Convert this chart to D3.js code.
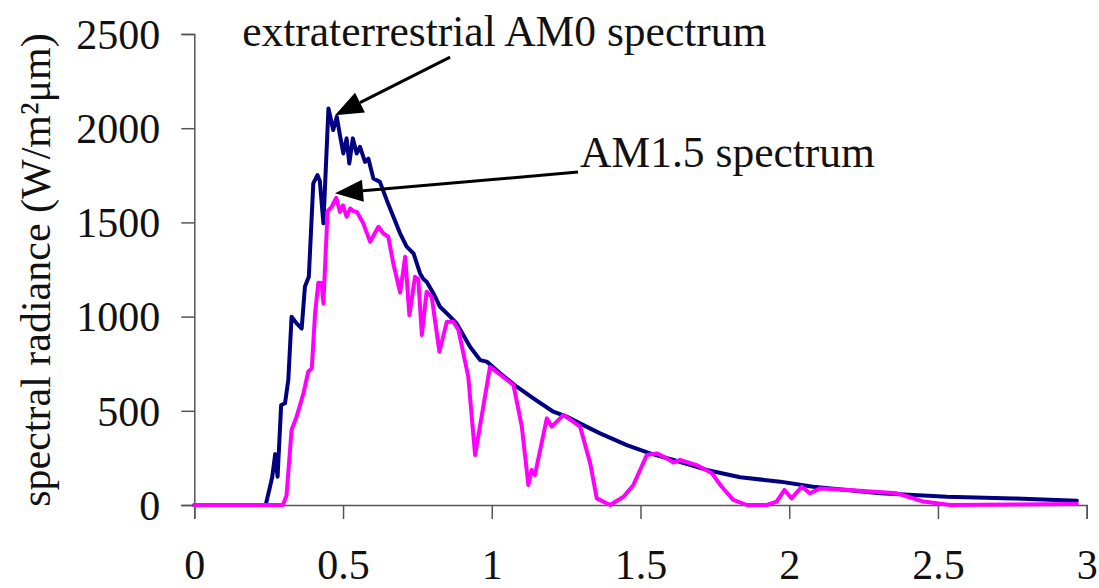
<!DOCTYPE html>
<html>
<head>
<meta charset="utf-8">
<script src="https://cdn.jsdelivr.net/npm/d3@7"></script>
<style>
  html, body { margin: 0; padding: 0; background: #fff; }
  svg { display: block; }
  text { font-family: "Liberation Serif", "Times New Roman", serif; fill: #111; }
</style>
</head>
<body>
<svg id="chart" width="1099" height="588"></svg>
<script>
// ---- data ----
const xTicks = [0, 0.5, 1, 1.5, 2, 2.5, 3];
const xTickLabels = ["0", "0.5", "1", "1.5", "2", "2.5", "3"];
const yTicks = [0, 500, 1000, 1500, 2000, 2500];
const yTickLabels = ["0", "500", "1000", "1500", "2000", "2500"];

const am0Wavelength = [0, 0.24, 0.255, 0.262, 0.272, 0.28, 0.292, 0.305, 0.316, 0.327, 0.344, 0.361, 0.372, 0.385, 0.400, 0.414, 0.422, 0.434, 0.451, 0.467, 0.479, 0.490, 0.501, 0.512, 0.521, 0.533, 0.546, 0.557, 0.574, 0.585, 0.602, 0.624, 0.647, 0.692, 0.714, 0.737, 0.759, 0.770, 0.781, 0.804, 0.826, 0.860, 0.882, 0.927, 0.961, 0.983, 1.028, 1.084, 1.140, 1.207, 1.252, 1.308, 1.364, 1.454, 1.532, 1.611, 1.723, 1.835, 1.970, 2.080, 2.306, 2.530, 2.754, 2.967];
const am0Radiance  = [0, 0, 100, 150, 270, 150, 531, 540, 663, 999, 964, 937, 1160, 1211, 1707, 1751, 1720, 1495, 2105, 1990, 2060, 1960, 1866, 1946, 1813, 1946, 1866, 1901, 1821, 1839, 1733, 1715, 1618, 1441, 1371, 1335, 1229, 1200, 1185, 1123, 1052, 1000, 964, 840, 769, 761, 699, 628, 566, 495, 469, 424, 380, 318, 274, 239, 186, 147, 124, 97, 62, 44, 35, 23];

const am15Wavelength = [0, 0.298, 0.310, 0.327, 0.344, 0.367, 0.383, 0.395, 0.406, 0.417, 0.428, 0.434, 0.448, 0.462, 0.477, 0.490, 0.500, 0.512, 0.524, 0.535, 0.546, 0.568, 0.591, 0.619, 0.636, 0.652, 0.669, 0.692, 0.709, 0.723, 0.742, 0.753, 0.765, 0.781, 0.798, 0.824, 0.849, 0.871, 0.888, 0.921, 0.944, 0.994, 1.073, 1.101, 1.123, 1.134, 1.145, 1.185, 1.202, 1.241, 1.297, 1.331, 1.353, 1.398, 1.443, 1.476, 1.521, 1.555, 1.588, 1.611, 1.633, 1.689, 1.740, 1.773, 1.812, 1.857, 1.925, 1.958, 1.984, 2.008, 2.042, 2.070, 2.104, 2.200, 2.362, 2.400, 2.451, 2.541, 2.967];
const am15Radiance  = [0, 0, 50, 398, 469, 593, 707, 725, 1017, 1180, 1178, 1070, 1560, 1583, 1630, 1556, 1590, 1530, 1574, 1560, 1556, 1495, 1397, 1477, 1441, 1424, 1282, 1128, 1317, 1008, 1211, 1200, 902, 1132, 1105, 814, 973, 973, 929, 681, 265, 734, 637, 416, 106, 186, 159, 460, 416, 478, 416, 221, 35, 0, 44, 106, 265, 274, 248, 225, 239, 212, 168, 97, 27, 0, 0, 18, 80, 35, 97, 62, 88, 80, 62, 44, 18, 0, 5];

// annotations (data space)
const annoLabels = ["extraterrestrial AM0 spectrum", "AM1.5 spectrum"];
const annoTextX = [1.042, 1.297];
const annoTextY = [2434, 1795];
const annoAnchor = ["middle", "start"];
const arrowTailX = [0.860, 1.290];
const arrowTailY = [2377, 1767];
const arrowTipX = [0.473, 0.473];
const arrowTipY = [2069, 1655];

// ---- drawing ----
const svg = d3.select("#chart");
const x = d3.scaleLinear().domain([0, 3]).range([194.3, 1086.7]);
const y = d3.scaleLinear().domain([0, 2500]).range([505, 34]);

const axisColor = "#555";
const fontSize = 42;

// x axis
const gx = svg.append("g").attr("transform", `translate(0,${y(0)})`)
  .call(d3.axisBottom(x).tickValues(xTicks).tickSize(14).tickPadding(0)
        .tickFormat((d, i) => xTickLabels[i]));
gx.select(".domain").attr("stroke", axisColor).attr("stroke-width", 1.5);
gx.selectAll(".tick line").attr("stroke", axisColor).attr("stroke-width", 1.5);
gx.selectAll(".tick text").attr("font-size", fontSize).attr("y", 74).attr("dy", 0)
  .attr("font-family", "Liberation Serif").attr("fill", "#111");

// y axis
const gy = svg.append("g").attr("transform", `translate(${x(0)},0)`)
  .call(d3.axisLeft(y).tickValues(yTicks).tickSize(13).tickPadding(0)
        .tickFormat((d, i) => yTickLabels[i]));
gy.select(".domain").attr("stroke", axisColor).attr("stroke-width", 1.5);
gy.selectAll(".tick line").attr("stroke", axisColor).attr("stroke-width", 1.5);
gy.selectAll(".tick text").attr("font-size", fontSize).attr("x", -34).attr("dy", "0.34em")
  .attr("font-family", "Liberation Serif").attr("fill", "#111");

// y label
svg.append("text")
  .attr("transform", `translate(50,270) rotate(-90)`)
  .attr("text-anchor", "middle")
  .attr("font-size", fontSize)
  .text("spectral radiance (W/m²μm)");

// lines
const line = d3.line().x(d => x(d[0])).y(d => y(d[1]));
const am0 = am0Wavelength.map((w, i) => [w, am0Radiance[i]]);
const am15 = am15Wavelength.map((w, i) => [w, am15Radiance[i]]);

svg.append("path").datum(am0).attr("d", line)
  .attr("fill", "none").attr("stroke", "#000080").attr("stroke-width", 4)
  .attr("stroke-linejoin", "round").attr("stroke-linecap", "round");
svg.append("path").datum(am15).attr("d", line)
  .attr("fill", "none").attr("stroke", "#ff00ff").attr("stroke-width", 4)
  .attr("stroke-linejoin", "round").attr("stroke-linecap", "round");

// annotations
annoLabels.forEach((lab, i) => {
  svg.append("text")
    .attr("x", x(annoTextX[i])).attr("y", y(annoTextY[i]))
    .attr("text-anchor", annoAnchor[i])
    .attr("font-size", 43.5)
    .text(lab);
  const tx = x(arrowTipX[i]), ty = y(arrowTipY[i]);
  const sx = x(arrowTailX[i]), sy = y(arrowTailY[i]);
  const ang = Math.atan2(sy - ty, sx - tx);
  const L = 28, W = 11;
  const bx = tx + L * Math.cos(ang), by = ty + L * Math.sin(ang);
  svg.append("line").attr("x1", sx).attr("y1", sy).attr("x2", bx).attr("y2", by)
    .attr("stroke", "#000").attr("stroke-width", 3);
  const px = -Math.sin(ang), py = Math.cos(ang);
  svg.append("polygon")
    .attr("points", [[tx, ty], [bx + W * px, by + W * py], [bx - W * px, by - W * py]].map(p => p.join(",")).join(" "))
    .attr("fill", "#000");
});
</script>
</body>
</html>
